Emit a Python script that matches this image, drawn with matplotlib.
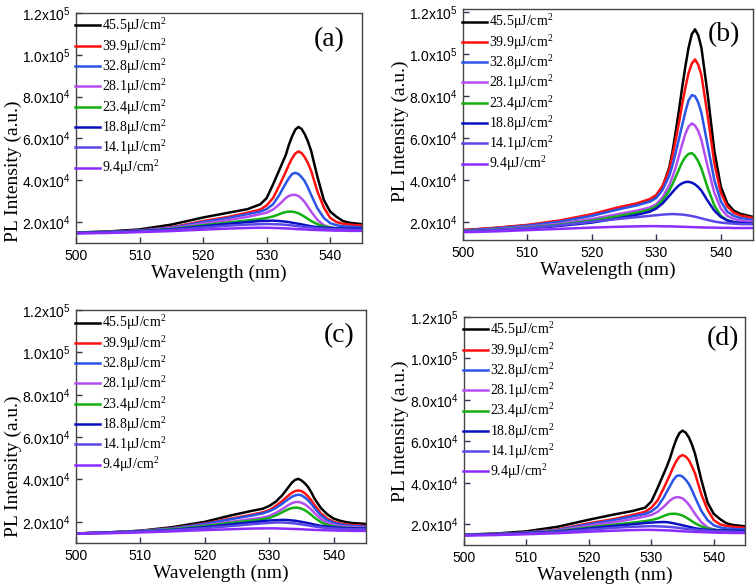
import numpy as np
import matplotlib
matplotlib.use("Agg")
import matplotlib.pyplot as plt
from matplotlib.ticker import FixedLocator, FuncFormatter

# ---------------- data (intensities in units of 1e4 a.u.) ----------------
wavelength = [500, 505, 510, 515, 520, 524, 527, 529, 530, 531, 532, 532.5, 533, 533.5,
              534, 534.5, 535, 535.5, 536, 536.5, 537, 538, 539, 540, 541, 542, 543, 545]

labels = ["45.5μJ/cm", "39.9μJ/cm", "32.8μJ/cm", "28.1μJ/cm",
          "23.4μJ/cm", "18.8μJ/cm", "14.1μJ/cm", "9.4μJ/cm"]
colors = ["#000000", "#ff1010", "#2a55e6", "#b54ef0",
          "#12b012", "#0a10c0", "#5a48e6", "#8a2cff"]

# panel (a)
a_455 = [1.50, 1.55, 1.65, 1.88, 2.22, 2.45, 2.62, 2.85, 3.15, 3.80, 4.50, 4.85, 5.20, 5.70,
         6.10, 6.42, 6.55, 6.45, 6.20, 5.85, 5.40, 4.15, 3.05, 2.50, 2.25, 2.05, 1.97, 1.90]
a_399 = [1.50, 1.53, 1.60, 1.75, 2.05, 2.25, 2.45, 2.60, 2.80, 3.15, 3.75, 4.08, 4.40, 4.75,
         5.05, 5.28, 5.38, 5.30, 5.10, 4.82, 4.45, 3.45, 2.70, 2.20, 2.00, 1.92, 1.88, 1.83]
a_328 = [1.50, 1.53, 1.60, 1.73, 2.00, 2.20, 2.38, 2.50, 2.62, 2.85, 3.30, 3.58, 3.85, 4.10,
         4.30, 4.36, 4.30, 4.15, 3.95, 3.65, 3.30, 2.65, 2.20, 1.95, 1.85, 1.80, 1.78, 1.75]
a_281 = [1.48, 1.52, 1.58, 1.70, 1.93, 2.10, 2.25, 2.38, 2.45, 2.60, 2.85, 3.00, 3.15, 3.25,
         3.30, 3.30, 3.25, 3.12, 2.95, 2.73, 2.50, 2.10, 1.85, 1.75, 1.70, 1.68, 1.67, 1.65]
a_234 = [1.48, 1.52, 1.57, 1.67, 1.85, 1.98, 2.08, 2.15, 2.20, 2.27, 2.38, 2.44, 2.48, 2.50,
         2.50, 2.47, 2.42, 2.34, 2.25, 2.15, 2.05, 1.90, 1.80, 1.74, 1.70, 1.68, 1.66, 1.65]
a_188 = [1.48, 1.52, 1.57, 1.65, 1.80, 1.92, 2.00, 2.05, 2.06, 2.07, 2.05, 2.035, 2.02, 2.00,
         1.97, 1.945, 1.92, 1.89, 1.86, 1.83, 1.80, 1.76, 1.73, 1.72, 1.70, 1.70, 1.69, 1.68]
a_141 = [1.47, 1.50, 1.55, 1.62, 1.74, 1.83, 1.88, 1.90, 1.91, 1.90, 1.89, 1.88, 1.87, 1.855,
         1.84, 1.82, 1.80, 1.785, 1.77, 1.755, 1.74, 1.71, 1.69, 1.67, 1.66, 1.65, 1.64, 1.63]
a_94 = [1.46, 1.48, 1.52, 1.57, 1.64, 1.69, 1.72, 1.73, 1.73, 1.72, 1.71, 1.705, 1.70, 1.69,
        1.68, 1.67, 1.66, 1.655, 1.65, 1.64, 1.63, 1.62, 1.61, 1.60, 1.59, 1.59, 1.58, 1.58]

# panel (b)
b_455 = [1.62, 1.72, 1.85, 2.05, 2.35, 2.65, 2.85, 3.00, 3.20, 3.70, 4.60, 5.35, 6.30, 7.30,
         8.40, 9.40, 10.30, 10.95, 11.18, 10.90, 10.30, 8.00, 5.40, 3.70, 2.90, 2.55, 2.40, 2.25]
b_399 = [1.62, 1.73, 1.87, 2.08, 2.38, 2.70, 2.90, 3.10, 3.30, 3.75, 4.50, 5.15, 5.90, 6.70,
         7.60, 8.40, 9.10, 9.55, 9.75, 9.50, 9.00, 7.00, 4.80, 3.40, 2.75, 2.45, 2.32, 2.20]
b_328 = [1.60, 1.70, 1.83, 2.02, 2.30, 2.60, 2.80, 2.98, 3.15, 3.55, 4.20, 4.70, 5.30, 5.95,
         6.60, 7.25, 7.80, 8.05, 8.00, 7.70, 7.20, 5.60, 4.00, 3.00, 2.50, 2.30, 2.20, 2.10]
b_281 = [1.58, 1.66, 1.77, 1.93, 2.15, 2.38, 2.55, 2.70, 2.85, 3.20, 3.75, 4.15, 4.60, 5.15,
         5.70, 6.20, 6.55, 6.70, 6.60, 6.35, 5.90, 4.60, 3.40, 2.65, 2.30, 2.15, 2.08, 2.02]
b_234 = [1.57, 1.64, 1.74, 1.88, 2.07, 2.28, 2.45, 2.60, 2.75, 3.05, 3.50, 3.80, 4.15, 4.50,
         4.85, 5.10, 5.25, 5.29, 5.15, 4.90, 4.55, 3.60, 2.80, 2.30, 2.10, 2.00, 1.95, 1.92]
b_188 = [1.56, 1.62, 1.70, 1.82, 1.98, 2.18, 2.35, 2.50, 2.65, 2.90, 3.25, 3.43, 3.60, 3.75,
         3.85, 3.91, 3.92, 3.88, 3.80, 3.67, 3.50, 3.00, 2.55, 2.25, 2.08, 2.00, 1.97, 1.93]
b_141 = [1.55, 1.62, 1.72, 1.85, 2.02, 2.15, 2.24, 2.30, 2.33, 2.36, 2.38, 2.385, 2.38, 2.37,
         2.36, 2.34, 2.32, 2.29, 2.26, 2.22, 2.18, 2.10, 2.03, 1.98, 1.95, 1.93, 1.91, 1.90]
b_94 = [1.52, 1.56, 1.62, 1.68, 1.74, 1.78, 1.80, 1.81, 1.81, 1.80, 1.80, 1.795, 1.79, 1.785,
        1.78, 1.775, 1.77, 1.765, 1.76, 1.755, 1.75, 1.74, 1.74, 1.73, 1.73, 1.72, 1.72, 1.72]

# panel (c)
c_455 = [1.45, 1.50, 1.58, 1.75, 2.00, 2.30, 2.50, 2.62, 2.75, 2.95, 3.25, 3.45, 3.65, 3.85,
         3.98, 4.03, 3.95, 3.82, 3.65, 3.40, 3.10, 2.65, 2.35, 2.15, 2.05, 1.98, 1.94, 1.90]
c_399 = [1.45, 1.50, 1.57, 1.70, 1.92, 2.15, 2.32, 2.45, 2.55, 2.75, 2.98, 3.12, 3.25, 3.37,
         3.45, 3.48, 3.45, 3.35, 3.20, 3.02, 2.80, 2.40, 2.15, 2.00, 1.92, 1.87, 1.84, 1.80]
c_328 = [1.45, 1.50, 1.57, 1.69, 1.90, 2.12, 2.28, 2.40, 2.50, 2.65, 2.85, 2.97, 3.08, 3.18,
         3.25, 3.28, 3.25, 3.15, 3.02, 2.85, 2.65, 2.30, 2.08, 1.95, 1.88, 1.83, 1.80, 1.77]
c_281 = [1.45, 1.49, 1.55, 1.66, 1.83, 2.00, 2.12, 2.20, 2.28, 2.42, 2.60, 2.70, 2.80, 2.88,
         2.93, 2.94, 2.90, 2.83, 2.72, 2.58, 2.42, 2.13, 1.95, 1.85, 1.80, 1.77, 1.75, 1.72]
c_234 = [1.45, 1.49, 1.55, 1.65, 1.80, 1.95, 2.05, 2.12, 2.18, 2.30, 2.45, 2.53, 2.60, 2.65,
         2.67, 2.66, 2.62, 2.55, 2.45, 2.33, 2.20, 1.98, 1.85, 1.78, 1.74, 1.72, 1.70, 1.68]
c_188 = [1.45, 1.49, 1.54, 1.62, 1.75, 1.88, 1.97, 2.03, 2.06, 2.08, 2.09, 2.09, 2.08, 2.065,
         2.05, 2.025, 2.00, 1.97, 1.94, 1.905, 1.87, 1.81, 1.77, 1.74, 1.72, 1.70, 1.69, 1.68]
c_141 = [1.45, 1.48, 1.53, 1.60, 1.70, 1.80, 1.88, 1.93, 1.95, 1.97, 1.97, 1.96, 1.95, 1.935,
         1.92, 1.90, 1.88, 1.855, 1.83, 1.805, 1.78, 1.74, 1.71, 1.69, 1.67, 1.66, 1.65, 1.64]
c_94 = [1.44, 1.46, 1.50, 1.55, 1.61, 1.65, 1.68, 1.69, 1.69, 1.69, 1.68, 1.675, 1.67, 1.665,
        1.66, 1.655, 1.65, 1.64, 1.63, 1.625, 1.62, 1.61, 1.60, 1.59, 1.58, 1.58, 1.57, 1.57]

# panel (d)
d_455 = [1.50, 1.55, 1.66, 1.88, 2.22, 2.47, 2.64, 2.80, 3.10, 3.75, 4.45, 4.80, 5.20, 5.68,
         6.10, 6.40, 6.52, 6.42, 6.20, 5.85, 5.40, 4.15, 3.05, 2.50, 2.25, 2.05, 1.97, 1.90]
d_399 = [1.50, 1.53, 1.60, 1.75, 2.05, 2.25, 2.45, 2.60, 2.80, 3.15, 3.75, 4.08, 4.40, 4.75,
         5.05, 5.26, 5.34, 5.27, 5.10, 4.80, 4.45, 3.45, 2.70, 2.20, 2.00, 1.92, 1.88, 1.83]
d_328 = [1.50, 1.53, 1.60, 1.73, 2.00, 2.20, 2.38, 2.50, 2.62, 2.85, 3.30, 3.58, 3.85, 4.12,
         4.32, 4.36, 4.30, 4.15, 3.95, 3.65, 3.30, 2.65, 2.20, 1.95, 1.85, 1.80, 1.78, 1.75]
d_281 = [1.48, 1.52, 1.58, 1.70, 1.93, 2.10, 2.25, 2.38, 2.45, 2.60, 2.85, 3.00, 3.15, 3.25,
         3.31, 3.30, 3.25, 3.12, 2.95, 2.73, 2.50, 2.10, 1.85, 1.75, 1.70, 1.68, 1.67, 1.65]
d_234 = [1.48, 1.52, 1.57, 1.67, 1.85, 1.98, 2.08, 2.15, 2.20, 2.28, 2.40, 2.46, 2.50, 2.51,
         2.50, 2.47, 2.42, 2.34, 2.25, 2.15, 2.05, 1.90, 1.80, 1.74, 1.70, 1.68, 1.66, 1.65]
d_188 = [1.48, 1.52, 1.57, 1.65, 1.80, 1.92, 2.00, 2.06, 2.08, 2.10, 2.11, 2.10, 2.08, 2.05,
         2.02, 1.985, 1.95, 1.915, 1.88, 1.845, 1.81, 1.76, 1.73, 1.72, 1.70, 1.70, 1.69, 1.68]
d_141 = [1.47, 1.50, 1.55, 1.62, 1.74, 1.83, 1.88, 1.90, 1.91, 1.90, 1.89, 1.88, 1.87, 1.855,
         1.84, 1.82, 1.80, 1.785, 1.77, 1.755, 1.74, 1.71, 1.69, 1.67, 1.66, 1.65, 1.64, 1.63]
d_94 = [1.46, 1.48, 1.52, 1.57, 1.64, 1.69, 1.72, 1.73, 1.73, 1.72, 1.71, 1.705, 1.70, 1.69,
        1.68, 1.67, 1.66, 1.655, 1.65, 1.64, 1.63, 1.62, 1.61, 1.60, 1.59, 1.59, 1.58, 1.58]

UNIT = 1e4
panel_series = {
    "(a)": [a_455, a_399, a_328, a_281, a_234, a_188, a_141, a_94],
    "(b)": [b_455, b_399, b_328, b_281, b_234, b_188, b_141, b_94],
    "(c)": [c_455, c_399, c_328, c_281, c_234, c_188, c_141, c_94],
    "(d)": [d_455, d_399, d_328, d_281, d_234, d_188, d_141, d_94],
}

x_ticks = [500, 510, 520, 530, 540]
y_ticks = [2e4, 4e4, 6e4, 8e4, 1.0e5, 1.2e5]

# ---------------- layout ----------------
W, H = 756, 588
def rect(l, t, r, b):
    return [l / W, 1 - b / H, (r - l) / W, (b - t) / H]

# ylab: (fontsize, x of label's right edge in axes fraction, y centre in axes fraction)
layout = {
    "(a)": dict(rect=rect(76, 13, 362, 243), ylim=(1.0e4, 1.2e5), tag=(0.885, 0.883),
                ylab=(14, -0.189, 0.31)),
    "(b)": dict(rect=rect(463, 9, 753, 240), ylim=(1.15e4, 1.215e5), tag=(0.90, 0.89),
                ylab=(14, -0.186, 0.47)),
    "(c)": dict(rect=rect(76, 310, 366, 543), ylim=(1.0e4, 1.2e5), tag=(0.907, 0.888),
                ylab=(14, -0.186, 0.33)),
    "(d)": dict(rect=rect(464, 317, 745, 545), ylim=(1.0e4, 1.2e5), tag=(0.923, 0.904),
                ylab=(14, -0.196, 0.5)),
}

SANS = "Liberation Sans"
SERIF = "Liberation Serif"

def yfmt(v, pos):
    e = int(np.floor(np.log10(v)))
    m = v / 10 ** e
    return "%.1fx10$\\mathregular{^{%d}}$" % (m, e)

fig = plt.figure(figsize=(W / 100, H / 100), dpi=100)

for name, series in panel_series.items():
    cfg = layout[name]
    ax = fig.add_axes(cfg["rect"])
    for vals, lab, col in zip(series, labels, colors):
        ax.plot(wavelength, np.asarray(vals) * UNIT, color=col, lw=1.8,
                solid_joinstyle="round", label=lab + "$\\mathregular{^2}$")
    ax.set_xlim(500, 545)
    ax.set_ylim(*cfg["ylim"])
    ax.xaxis.set_major_locator(FixedLocator(x_ticks))
    ax.yaxis.set_major_locator(FixedLocator(y_ticks))
    ax.yaxis.set_major_formatter(FuncFormatter(yfmt))
    ax.tick_params(direction="in", length=4, width=1, color="#333355",
                   labelsize=10, pad=4)
    for lab in ax.get_xticklabels() + ax.get_yticklabels():
        lab.set_fontfamily(SANS)
    for sp in ax.spines.values():
        sp.set_color("#444444")
        sp.set_linewidth(1.0)
    ax.set_xlabel("Wavelength (nm)", fontfamily=SERIF, fontsize=14, labelpad=1.5)
    fs, lx, ly = cfg["ylab"]
    ax.set_ylabel("PL Intensity (a.u.)", fontfamily=SERIF, fontsize=fs)
    ax.yaxis.set_label_coords(lx, ly)
    ax.text(cfg["tag"][0], cfg["tag"][1], name, transform=ax.transAxes,
            fontfamily=SERIF, fontsize=20, ha="center", va="center")
    ax.legend(loc="upper left", bbox_to_anchor=(-0.005, 0.985), frameon=False,
              prop={"family": SERIF, "size": 10}, handlelength=1.8,
              handletextpad=0.2, labelspacing=0.1, borderpad=0,
              borderaxespad=0)

fig.savefig("out.png", dpi=100)
